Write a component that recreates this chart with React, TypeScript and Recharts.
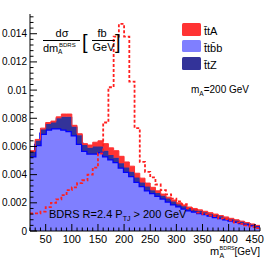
import { ComposedChart, Area, Line, XAxis, YAxis } from 'recharts';

// left edges of the 10 GeV bins
const binEdges = [
  20, 30, 40, 50, 60, 70, 80, 90, 100, 110, 120, 130, 140, 150, 160, 170, 180, 190, 200, 210, 220, 230,
  240, 250, 260, 270, 280, 290, 300, 310, 320, 330, 340, 350, 360, 370, 380, 390, 400, 410, 420, 430, 440, 450,
];
const xEnd = 460;

const ttbb = [
  0.0053, 0.0061, 0.0069, 0.0072, 0.0073, 0.0073, 0.0072, 0.0071, 0.0068, 0.0062, 0.0057, 0.0055, 0.0055, 0.0056,
  0.0053, 0.0051, 0.0049, 0.0045, 0.0042, 0.0039, 0.0035, 0.0032, 0.0029, 0.0027, 0.0025, 0.0023, 0.0021, 0.0019,
  0.00175, 0.0016, 0.00148, 0.00138, 0.00128, 0.0012, 0.0011, 0.001, 0.00092, 0.00083, 0.00074, 0.00066, 0.00057,
  0.00048, 0.0004, 0.00032,
];
const ttZ = [
  0.0003, 0.0003, 0.0003, 0.0004, 0.0004, 0.0007, 0.0009, 0.001, 0.0006, 0.0006, 0.0004, 0.0004, 0.0005, 0.0004,
  0.0004, 0.0003, 0.0003, 0.0003, 0.0003, 0.0003, 0.0003, 0.00025, 0.00025, 0.0002, 0.0002, 0.0002, 0.0002, 0.0002,
  0.00015, 0.00015, 0.00015, 0.00015, 0.00015, 0.00013, 0.00013, 0.00013, 0.00012, 0.00011, 0.0001, 0.00009,
  0.00008, 0.00007, 0.00006, 0.00005,
];
const ttA = [
  0.0001, 0.0001, 0.0001, 0.0001, 0.0001, 0.0001, 0.0002, 0.0002, 0.0001, 0.0001, 0.0001, 0.0002, 0.0003, 0.0004,
  0.0005, 0.0005, 0.0005, 0.0005, 0.0004, 0.0004, 0.0003, 0.0003, 0.00025, 0.0002, 0.00015, 0.00012, 0.0001, 0.0001,
  0.0001, 0.0001, 0.00007, 0.00007, 0.00007, 0.00007, 0.00007, 0.00007, 0.00006, 0.00006, 0.00006, 0.00005,
  0.00005, 0.00005, 0.00004, 0.00003,
];
// ttA shape alone (dashed)
const signal = [
  0.00125, 0.00125, 0.00137, 0.0017, 0.002, 0.00225, 0.00255, 0.0029, 0.0031, 0.0034, 0.0036, 0.004, 0.0045,
  0.0055, 0.0077, 0.0102, 0.0138, 0.0147, 0.0138, 0.0106, 0.0073, 0.0049, 0.0042, 0.0038, 0.0033, 0.0029, 0.0026,
  0.0023, 0.0021, 0.0019, 0.0016, 0.0015, 0.0013, 0.0012, 0.0011, 0.00105, 0.0009, 0.00085, 0.00075, 0.0006, 0.0005,
  0.0004, 0.0003, 0.0002,
];

const xTicks = [
  20, 30, 40, 50, 60, 70, 80, 90, 100, 110, 120, 130, 140, 150, 160, 170, 180, 190, 200, 210, 220, 230, 240, 250,
  260, 270, 280, 290, 300, 310, 320, 330, 340, 350, 360, 370, 380, 390, 400, 410, 420, 430, 440, 450, 460,
];
const xLabels = [50, 100, 150, 200, 250, 300, 350, 400, 450];
const yTicks = [
  0, 0.0004, 0.0008, 0.0012, 0.0016, 0.002, 0.0024, 0.0028, 0.0032, 0.0036, 0.004, 0.0044, 0.0048, 0.0052, 0.0056,
  0.006, 0.0064, 0.0068, 0.0072, 0.0076, 0.008, 0.0084, 0.0088, 0.0092, 0.0096, 0.01, 0.0104, 0.0108, 0.0112,
  0.0116, 0.012, 0.0124, 0.0128, 0.0132, 0.0136, 0.014, 0.0144, 0.0148, 0.0152,
];
const yLabels = [0, 0.002, 0.004, 0.006, 0.008, 0.01, 0.012, 0.014];

const FONT = '"Liberation Sans", Arial, sans-serif';
const RED = '#ff3333';
const LIGHT = '#7f7fff';
const NAVY = '#333399';

const rows = binEdges.map((x, i) => ({ x, ttbb: ttbb[i], ttZ: ttZ[i], ttA: ttA[i], signal: signal[i] }));
const last = rows.length - 1;
const data = [...rows, { ...rows[last], x: xEnd }];

const major = (v: number, list: number[]) => list.some((l) => Math.abs(l - v) < 1e-9);

const BottomTick = (p: any) => {
  const v = p.payload.value;
  const m = major(v, xLabels);
  return (
    <g>
      <line x1={p.x} x2={p.x} y1={p.y} y2={p.y - (m ? 7 : 3.5)} stroke="#000" />
      {m && (
        <text x={p.x} y={p.y + 12} textAnchor="middle" fontSize={11} fontFamily={FONT} fill="#000">
          {v}
        </text>
      )}
    </g>
  );
};

const TopTick = (p: any) => {
  const m = major(p.payload.value, xLabels);
  return <line x1={p.x} x2={p.x} y1={p.y} y2={p.y + (m ? 7 : 3.5)} stroke="#000" />;
};

const LeftTick = (p: any) => {
  const v = p.payload.value;
  const m = major(v, yLabels);
  return (
    <g>
      <line x1={p.x} x2={p.x + (m ? 7 : 3.5)} y1={p.y} y2={p.y} stroke="#000" />
      {m && (
        <text x={p.x - 3} y={p.y + 3.5} textAnchor="end" fontSize={10} fontFamily={FONT} fill="#000">
          {String(v)}
        </text>
      )}
    </g>
  );
};

const RightTick = (p: any) => {
  const m = major(p.payload.value, yLabels);
  return <line x1={p.x} x2={p.x - (m ? 7 : 3.5)} y1={p.y} y2={p.y} stroke="#000" />;
};

export default function App() {
  return (
    <div style={{ position: 'absolute', left: 0, top: 0, width: 274, height: 266, background: '#fff' }}>
      <ComposedChart width={274} height={266} data={data} margin={{ top: 14, right: 14, bottom: 0, left: 0 }}>
        <XAxis
          dataKey="x"
          type="number"
          domain={[20, 460]}
          ticks={xTicks}
          interval={0}
          height={35}
          tickSize={0}
          tickMargin={0}
          tickLine={false}
          tick={<BottomTick />}
          axisLine={{ stroke: '#000' }}
        />
        <XAxis
          xAxisId="top"
          orientation="top"
          dataKey="x"
          type="number"
          domain={[20, 460]}
          ticks={xTicks}
          interval={0}
          height={0}
          tickSize={0}
          tickMargin={0}
          tickLine={false}
          tick={<TopTick />}
          axisLine={{ stroke: '#000' }}
        />
        <YAxis
          type="number"
          domain={[0, 0.0154]}
          ticks={yTicks}
          interval={0}
          width={30}
          tickSize={0}
          tickMargin={0}
          tickLine={false}
          tick={<LeftTick />}
          axisLine={{ stroke: '#000' }}
        />
        <YAxis
          yAxisId="right"
          orientation="right"
          type="number"
          domain={[0, 0.0154]}
          ticks={yTicks}
          interval={0}
          width={0}
          tickSize={0}
          tickMargin={0}
          tickLine={false}
          tick={<RightTick />}
          axisLine={{ stroke: '#000' }}
        />
        <Area
          type="stepAfter"
          dataKey="ttbb"
          stackId="s"
          fill={LIGHT}
          fillOpacity={1}
          stroke="#0000ff"
          strokeWidth={2.5}
          isAnimationActive={false}
        />
        <Area
          type="stepAfter"
          dataKey="ttZ"
          stackId="s"
          fill={NAVY}
          fillOpacity={1}
          stroke={NAVY}
          strokeWidth={1}
          isAnimationActive={false}
        />
        <Area
          type="stepAfter"
          dataKey="ttA"
          stackId="s"
          fill={RED}
          fillOpacity={1}
          stroke={RED}
          strokeWidth={1}
          isAnimationActive={false}
        />
        <Line
          type="stepAfter"
          dataKey="signal"
          stroke="#ff2020"
          strokeWidth={1.8}
          strokeDasharray="3 2"
          dot={false}
          isAnimationActive={false}
        />
      </ComposedChart>
      <svg
        width={274}
        height={266}
        style={{ position: 'absolute', left: 0, top: 0, pointerEvents: 'none' }}
        fontFamily={FONT}
      >
        {/* y title */}
        <text x={62} y={37} textAnchor="middle" fontSize={11}>dσ</text>
        <line x1={43} x2={80} y1={40.5} y2={40.5} stroke="#000" />
        <text x={43} y={52} fontSize={11}>dm</text>
        <text x={58} y={54} fontSize={6.5}>A</text>
        <text x={59} y={46.5} fontSize={6}>BDRS</text>
        <text x={82} y={49} fontSize={20} fontWeight={300}>[</text>
        <text x={102} y={37} textAnchor="middle" fontSize={11}>fb</text>
        <line x1={92} x2={115} y1={40.5} y2={40.5} stroke="#000" />
        <text x={103.5} y={51} textAnchor="middle" fontSize={11}>GeV</text>
        <text x={115} y={49} fontSize={20} fontWeight={300}>]</text>

        {/* legend */}
        <rect x={182} y={23} width={19} height={13} fill={RED} rx={1.5} />
        <rect x={182} y={40} width={19} height={12} fill={LIGHT} rx={1.5} />
        <rect x={182} y={57} width={19} height={13} fill={NAVY} rx={1.5} />
        <text x={204} y={35} fontSize={11}>{'t\u0304tA'}</text>
        <text x={204} y={52} fontSize={11}>{'t\u0304tb\u0304b'}</text>
        <text x={204} y={69} fontSize={11}>{'t\u0304tZ'}</text>

        <text x={191} y={93} fontSize={10}>
          m<tspan fontSize={6.5} dy={2.5}>A</tspan>
          <tspan dy={-2.5}>=200 GeV</tspan>
        </text>

        <text x={49} y={218} fontSize={11}>
          BDRS R=2.4 P<tspan fontSize={7} dy={3}>TJ</tspan>
          <tspan dy={-3}> &gt; 200 GeV</tspan>
        </text>

        {/* x title */}
        <text x={210} y={255} fontSize={11}>m</text>
        <text x={219.5} y={258} fontSize={7}>A</text>
        <text x={219.5} y={249.5} fontSize={5.5}>BDRS</text>
        <text x={260} y={255} textAnchor="end" fontSize={10}>[GeV]</text>
      </svg>
    </div>
  );
}
